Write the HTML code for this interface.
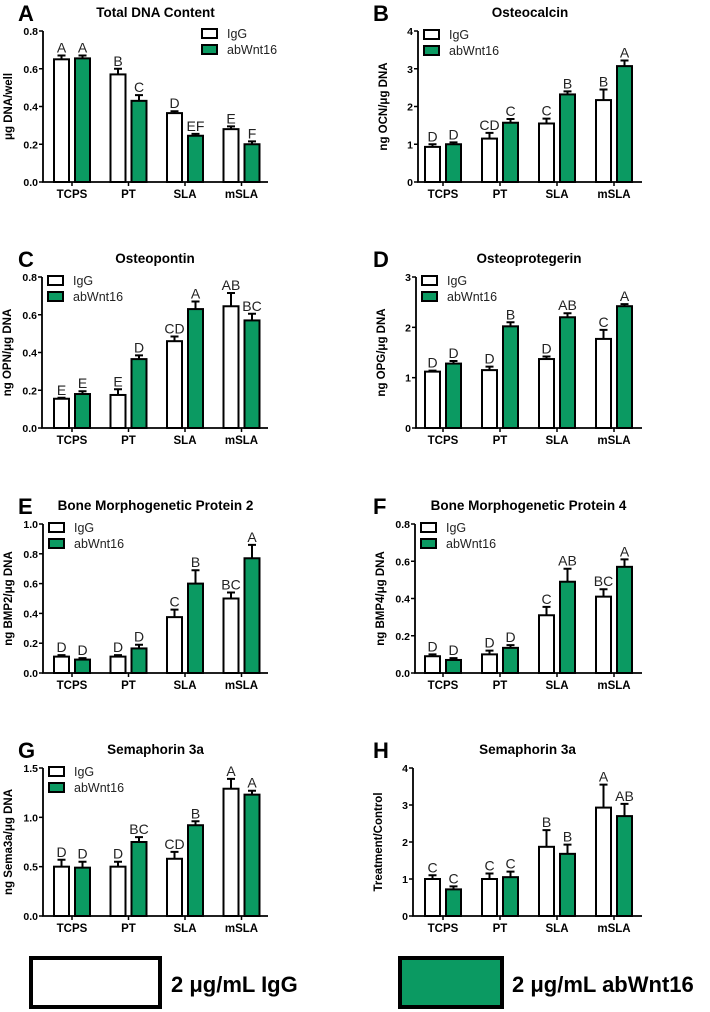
<!DOCTYPE html>
<html><head><meta charset="utf-8"><style>
html,body{margin:0;padding:0;background:#fff;width:710px;height:1012px;overflow:hidden}
svg{display:block;font-family:"Liberation Sans",sans-serif}
</style></head><body>
<svg id="fig" width="710" height="1012" viewBox="0 0 710 1012" xmlns="http://www.w3.org/2000/svg">
<g>
<rect x="31" y="958" width="129" height="49" fill="#fff" stroke="#000" stroke-width="4"/>
<text x="171" y="992" font-size="22" font-weight="bold">2 μg/mL IgG</text></g>
<g>
<rect x="400" y="958" width="102" height="49" fill="#0b9a62" stroke="#000" stroke-width="4"/>
<text x="512" y="992" font-size="22" font-weight="bold">2 μg/mL abWnt16</text></g>
</svg>
<script>
const groups = ["TCPS","PT","SLA","mSLA"];
const panelLetters = ["A","B","C","D","E","F","G","H"];
const panelTitles = ["Total DNA Content","Osteocalcin","Osteopontin","Osteoprotegerin","Bone Morphogenetic Protein 2","Bone Morphogenetic Protein 4","Semaphorin 3a","Semaphorin 3a"];
const yTitles = ["μg DNA/well","ng OCN/μg DNA","ng OPN/μg DNA","ng OPG/μg DNA","ng BMP2/μg DNA","ng BMP4/μg DNA","ng Sema3a/μg DNA","Treatment/Control"];
const yMax = [0.8,4,0.8,3,1.0,0.8,1.5,4];
const yStep = [0.2,1,0.2,1,0.2,0.2,0.5,1];
const yDec = [1,0,1,0,1,1,1,0];
const iggValues = [[.65,.57,.365,.28],[.93,1.15,1.55,2.17],[.155,.175,.46,.645],[1.12,1.15,1.37,1.77],[.11,.11,.375,.5],[.09,.1,.31,.41],[.5,.5,.58,1.29],[1.0,1.0,1.87,2.93]];
const iggErrors = [[.02,.03,.01,.015],[.07,.15,.13,.28],[.005,.03,.025,.07],[.02,.07,.05,.18],[.01,.01,.05,.04],[.01,.02,.045,.04],[.07,.05,.07,.1],[.1,.15,.45,.62]];
const abValues = [[.655,.43,.245,.2],[1.0,1.57,2.32,3.07],[.18,.365,.63,.57],[1.28,2.02,2.2,2.42],[.09,.165,.6,.77],[.07,.135,.49,.57],[.49,.75,.92,1.23],[.72,1.05,1.68,2.7]];
const abErrors = [[.015,.03,.01,.015],[.05,.1,.08,.15],[.015,.02,.04,.035],[.05,.08,.08,.04],[.01,.025,.09,.09],[.01,.015,.07,.04],[.06,.05,.04,.04],[.08,.15,.25,.33]];
const iggLetters = [["A","B","D","E"],["D","CD","C","B"],["E","E","CD","AB"],["D","D","D","C"],["D","D","C","BC"],["D","D","C","BC"],["D","D","CD","A"],["C","C","B","A"]];
const abLetters = [["A","C","EF","F"],["D","C","B","A"],["E","D","A","BC"],["D","B","AB","A"],["D","D","B","A"],["D","D","AB","A"],["D","BC","B","A"],["C","C","B","AB"]];

const NS="http://www.w3.org/2000/svg";
const fig=document.getElementById('fig');
const GREEN="#0b9a62";
function mk(parent,tag,attrs,txt){const e=document.createElementNS(NS,tag);for(const k in attrs)e.setAttribute(k,attrs[k]);if(txt!==undefined)e.textContent=txt;parent.appendChild(e);return e;}
const tops=[31,277,524,768], bots=[182,428,673,916];
for(let p=0;p<8;p++){
  const col=p%2,row=Math.floor(p/2);
  const ax=col?[418,416,415,413][row]:[43,42,43,43][row];
  const right=col?642:268;
  const top=tops[row], bot=bots[row];
  const c0=col?443:72, sp=col?57:56.5;
  const y=v=>bot-(v/yMax[p])*(bot-top);
  const x=i=>c0+sp*i;
  const g=mk(fig,'g',{});
  
  
  const L=mk(g,'text',{x:col?373:18,y:top-10,'font-size':22,'font-weight':'bold'},panelLetters[p]);
  
  
  const T=mk(g,'text',{x:(ax+right)/2,y:top-14,'font-size':13.5,'font-weight':'bold','text-anchor':'middle'},panelTitles[p]);
  
  
  const YT=mk(g,'text',{transform:`translate(${ax-31},${(top+bot)/2}) rotate(-90)`,'font-size':11.5,'font-weight':'bold','text-anchor':'middle'},yTitles[p]);
  
  
  // bars
  const bw=15;
  for(let i=0;i<4;i++){
    const sets=[[iggValues,iggErrors,iggLetters,'#fff',-10.5,'igg'],[abValues,abErrors,abLetters,GREEN,10.5,'abwnt16']];
    for(const [V,E,LT,fill,off,nm] of sets){
      const v=V[p][i],e=E[p][i],cx=x(i)+off;
      const r=mk(g,'rect',{x:cx-bw/2,y:y(v),width:bw,height:bot-y(v),fill:fill,stroke:'#000','stroke-width':2});
      
      
      const eb=mk(g,'path',{d:`M${cx},${y(v)} V${y(v+e)} M${cx-4},${y(v+e)} H${cx+4}`,stroke:'#000','stroke-width':2,fill:'none'});
      
      
      const lt=mk(g,'text',{x:cx,y:y(v+e)-3,'font-size':14,'text-anchor':'middle',fill:'#222'},LT[p][i]);
      
      
    }
    const tk=mk(g,'line',{x1:x(i),x2:x(i),y1:bot,y2:bot+4,stroke:'#000','stroke-width':1.5});
    
    
    const xl=mk(g,'text',{x:x(i),y:bot+16,'font-size':11.5,'font-weight':'bold','text-anchor':'middle'},groups[i]);
    
    
  }
  const axes=mk(g,'path',{d:`M${ax},${top} V${bot} H${right}`,stroke:'#000','stroke-width':1.8,fill:'none'});
  
  
  const n=Math.round(yMax[p]/yStep[p]);
  for(let k=0;k<=n;k++){
    const v=k*yStep[p];
    const t=mk(g,'line',{x1:ax-4,x2:ax,y1:y(v),y2:y(v),stroke:'#000','stroke-width':1.5});
    
    
    const tl=mk(g,'text',{x:ax-5,y:y(v)+4,'font-size':10.5,'font-weight':'bold','text-anchor':'end'},v.toFixed(yDec[p]));
    
    
  }
  if(p<7){
    const lx=p===0?202:ax+6, ly=p===0?29:top-1;
    const entries=[['IgG','#fff','legend-entry-igg'],['abWnt16',GREEN,'legend-entry-abwnt16']];
    entries.forEach((en,j)=>{
      const lg=mk(g,'g',{});
      
      
      mk(lg,'rect',{x:lx,y:ly+j*16,width:15,height:9,fill:en[1],stroke:'#000','stroke-width':2});
      mk(lg,'text',{x:lx+25,y:ly+j*16+9,'font-size':12.5,fill:'#222'},en[0]);
    });
  }
}
</script>
</body></html>
